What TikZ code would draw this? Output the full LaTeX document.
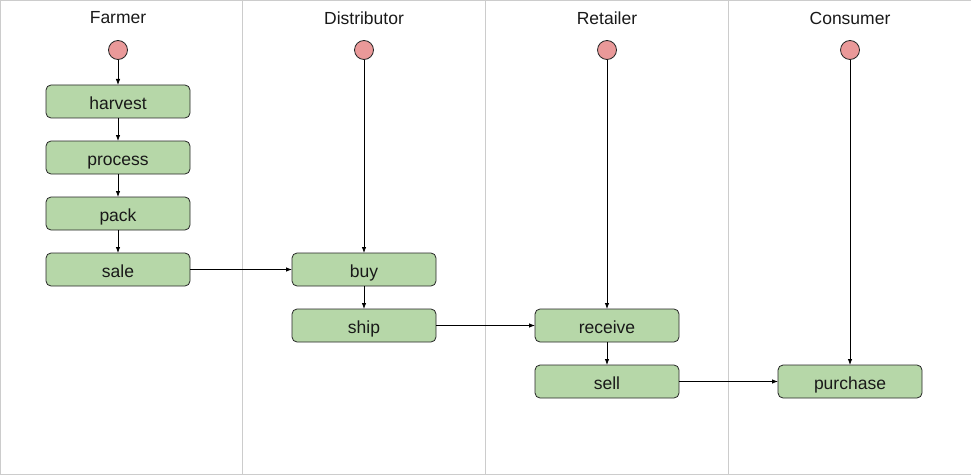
\documentclass[tikz,border=0pt]{standalone}
\usepackage{fontspec}
\setmainfont{Liberation Sans}
\usetikzlibrary{positioning, arrows.meta}

\definecolor{taskgreen}{HTML}{B6D7A8}
\definecolor{startred}{HTML}{EA9999}
\definecolor{laneline}{HTML}{CCCCCC}

\begin{document}
\begin{tikzpicture}[> = {Latex[length = 6pt, width = 4.5pt]}, x = 1pt, y = -1pt,
	every node/.style = {font = \fontsize{17.5}{20}\selectfont, text = black!90},
	task/.style = {draw = black!85, line width = 0.8pt, fill = taskgreen, rounded corners = 5pt,
		minimum width = 144pt, minimum height = 33pt, inner sep = 0pt, outer sep = 0pt,
		text height = 15.5pt, text depth = 0pt},
	start/.style = {draw = black!85, line width = 0.8pt, circle, fill = startred,
		minimum size = 19pt, inner sep = 0pt},
	flow/.style = {->, line width = 0.8pt}]

	% Definitions
	
	\def\W{971}		% Picture width
	\def\H{476}		% Picture height
	\def\G{23pt}	% Gap between stacked tasks
	
	\useasboundingbox (0, 0) rectangle (\W, \H);
	
	% Frame and lane dividers
	
	\draw [laneline, line width = 1pt] (0.5, 0.5) rectangle (\W + 1, \H - 1.5);
	\foreach \X in {242.5, 485.5, 728.5}
	{
		\draw [laneline, line width = 1pt] (\X, 0.5) -- (\X, \H - 1.5);
	}
	
	% Lane titles and start points
	
	\foreach \lane/\heading/\X in {farmer/Farmer/118, distributor/Distributor/364, retailer/Retailer/607, consumer/Consumer/850}
	{
		\node (\lane) at (\X, 18) {\heading};
		\node [start] (\lane-start) at (\X, 50) {};
	}
	
	% Tasks
	
	\node [task] (harvest) at (118, 101.5) {harvest};
	\node [task, below = \G of harvest] (process) {process};
	\node [task, below = \G of process] (pack) {pack};
	\node [task, below = \G of pack] (sale) {sale};
	
	\node [task] (buy) at (364, 269.5) {buy};
	\node [task, below = \G of buy] (ship) {ship};
	
	\node [task] (receive) at (607, 325.5) {receive};
	\node [task, below = \G of receive] (sell) {sell};
	
	\node [task] (purchase) at (850, 381.5) {purchase};
	
	% Flow
	
	\draw [flow] (farmer-start) -- (harvest);
	\draw [flow] (harvest) -- (process);
	\draw [flow] (process) -- (pack);
	\draw [flow] (pack) -- (sale);
	\draw [flow] (sale) -- (buy);
	
	\draw [flow] (distributor-start) -- (buy);
	\draw [flow] (buy) -- (ship);
	\draw [flow] (ship) -- (receive);
	
	\draw [flow] (retailer-start) -- (receive);
	\draw [flow] (receive) -- (sell);
	\draw [flow] (sell) -- (purchase);
	
	\draw [flow] (consumer-start) -- (purchase);

\end{tikzpicture}
\end{document}
